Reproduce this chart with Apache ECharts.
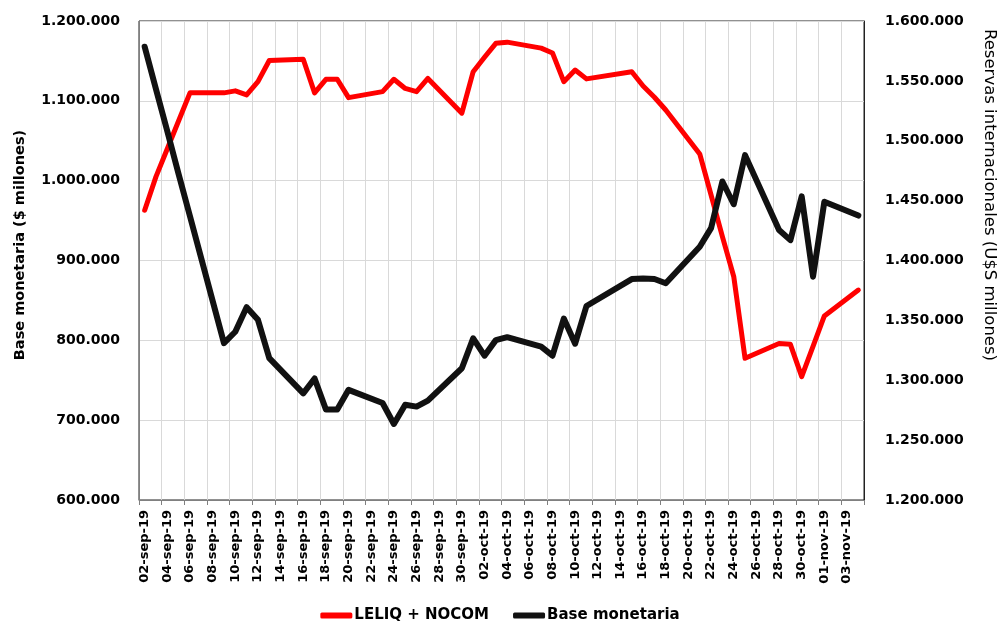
<!DOCTYPE html>
<html>
<head>
<meta charset="utf-8">
<script src="https://cdn.jsdelivr.net/npm/echarts@6/dist/echarts.min.js"></script>
<style>html,body{margin:0;padding:0;background:#fff}#c{width:1000px;height:621px}</style>
</head>
<body>
<div id="c"></div>
<script>
var dates = ["02-sep-19","03-sep-19","04-sep-19","05-sep-19","06-sep-19","07-sep-19","08-sep-19","09-sep-19","10-sep-19","11-sep-19","12-sep-19","13-sep-19","14-sep-19","15-sep-19","16-sep-19","17-sep-19","18-sep-19","19-sep-19","20-sep-19","21-sep-19","22-sep-19","23-sep-19","24-sep-19","25-sep-19","26-sep-19","27-sep-19","28-sep-19","29-sep-19","30-sep-19","01-oct-19","02-oct-19","03-oct-19","04-oct-19","05-oct-19","06-oct-19","07-oct-19","08-oct-19","09-oct-19","10-oct-19","11-oct-19","12-oct-19","13-oct-19","14-oct-19","15-oct-19","16-oct-19","17-oct-19","18-oct-19","19-oct-19","20-oct-19","21-oct-19","22-oct-19","23-oct-19","24-oct-19","25-oct-19","26-oct-19","27-oct-19","28-oct-19","29-oct-19","30-oct-19","31-oct-19","01-nov-19","02-nov-19","03-nov-19","04-nov-19"];

// LELIQ + NOCOM ($ millones), business days only (null = weekend / holiday)
var leliq = [963000,1005000,1040000,1075000,1110000,null,null,
  1110000,1112500,1107500,1124000,1150500,null,null,
  1152000,1110000,1127000,1127000,1104000,null,null,
  1111500,1127000,1115500,1111500,1128000,null,null,
  1084500,1136500,1154500,1172000,1173500,null,null,
  1166000,1160000,1124000,1138500,1127500,null,null,
  null,1136500,1118500,1104500,1088500,null,null,
  1033500,982000,930000,880000,777500,null,null,
  796000,795000,754500,792500,830500,null,null,
  863000];

// Base monetaria (plotted on right axis)
var base = [1578500,1543000,1508000,1472000,1437000,null,null,
  1331000,1340500,1361000,1350500,1318500,null,null,
  1289000,1301500,1275500,1275500,1292000,null,null,
  1281000,1263500,1279500,1278000,1283000,null,null,
  1310000,1335000,1320500,1333500,1336000,null,null,
  1328000,1320500,1351500,1330500,1362000,null,null,
  null,1384500,1385000,1384500,1381000,null,null,
  1411500,1427000,1466000,1447000,1488000,null,null,
  1425500,1417000,1453500,1386500,1449000,null,null,
  1437500];

var leftTicks = {min:600000, max:1200000, step:100000};
var rightTicks = {min:1200000, max:1600000, step:50000};

function fmt(v){ return String(v).replace(/\B(?=(\d{3})+(?!\d))/g,'.'); }

var chart = echarts.init(document.getElementById('c'), null, {renderer:'canvas'});
var labelFont = {color:'#000', fontFamily:'DejaVu Sans', fontWeight:'bold', fontSize:14};
chart.setOption({
  animation:false,
  backgroundColor:'#fff',
  grid:{left:139, right:136, top:21, bottom:121, show:true, borderColor:'#222', borderWidth:1, backgroundColor:'transparent'},
  legend:{
    top:603, left:'center', icon:'roundRect', itemWidth:32, itemHeight:6, itemGap:24,
    textStyle:{color:'#000', fontFamily:'DejaVu Sans', fontWeight:'bold', fontSize:15, padding:[0,0,0,-3]},
    data:['LELIQ + NOCOM','Base monetaria']
  },
  xAxis:{
    type:'category', data:dates, boundaryGap:true,
    axisLine:{lineStyle:{color:'#808080', width:1}},
    axisTick:{show:true, interval:1, length:5, lineStyle:{color:'#808080'}},
    axisLabel:{interval:1, rotate:90, margin:10, color:'#000', fontFamily:'DejaVu Sans', fontWeight:'bold', fontSize:13},
    splitLine:{show:true, interval:1, lineStyle:{color:'#d9d9d9', width:1}}
  },
  yAxis:[{
    type:'value', min:leftTicks.min, max:leftTicks.max, interval:leftTicks.step, position:'left',
    axisLine:{show:true, lineStyle:{color:'#808080'}}, axisTick:{show:false},
    axisLabel:Object.assign({margin:19, formatter:fmt}, labelFont),
    splitLine:{show:true, lineStyle:{color:'#d9d9d9', width:1}}
  },{
    type:'value', min:rightTicks.min, max:rightTicks.max, interval:rightTicks.step, position:'right',
    axisLine:{show:true, lineStyle:{color:'#222'}}, axisTick:{show:false},
    axisLabel:Object.assign({margin:21, formatter:fmt}, labelFont),
    splitLine:{show:false}
  }],
  graphic:[
    {type:'text', x:20, y:245, rotation:Math.PI/2,
     style:{text:'Base monetaria ($ millones)', fill:'#000', font:'bold 14.5px "DejaVu Sans"', align:'center', verticalAlign:'middle'}},
    {type:'text', x:989, y:195, rotation:-Math.PI/2,
     style:{text:'Reservas internacionales (U$S millones)', fill:'#000', font:'16.5px "DejaVu Sans"', align:'center', verticalAlign:'middle'}}
  ],
  series:[{
    name:'LELIQ + NOCOM', type:'line', yAxisIndex:0, data:leliq, connectNulls:true,
    showSymbol:false, symbol:'none', color:'#ff0000',
    lineStyle:{color:'#ff0000', width:5, cap:'round', join:'round'}
  },{
    name:'Base monetaria', type:'line', yAxisIndex:1, data:base, connectNulls:true,
    showSymbol:false, symbol:'none', color:'#111111',
    lineStyle:{color:'#111111', width:6, cap:'round', join:'round'}
  }]
});
</script>
</body>
</html>
